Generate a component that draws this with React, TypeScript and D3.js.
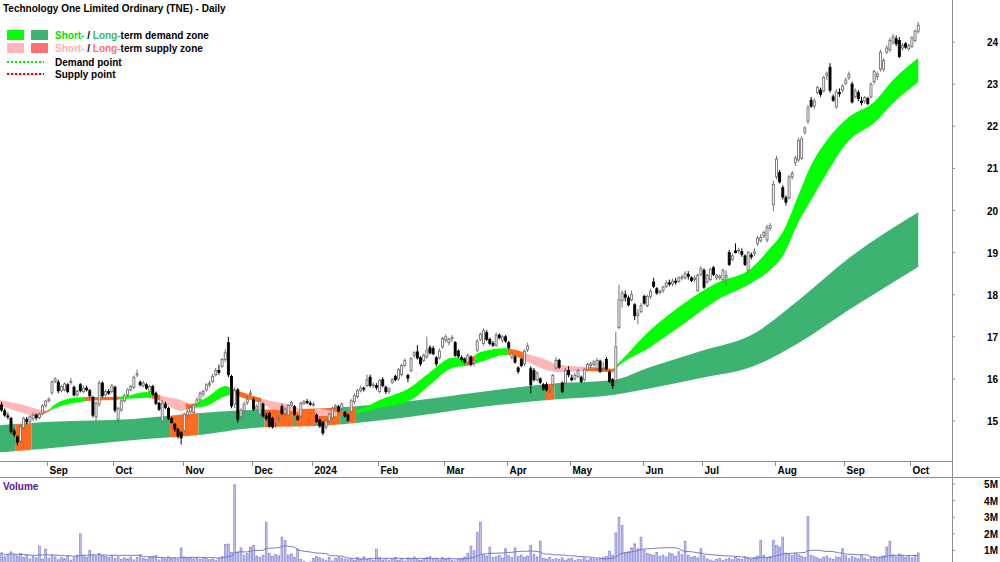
import React, { useRef, useEffect } from 'react';
import * as d3 from 'd3';

type Candle = [number, number, number, number]; // open, high, low, close

// daily candles, 11 Aug 2023 .. 3 Oct 2024 (one per trading day)
const candles: Candle[] = [
  [15.38,15.45,15.22,15.26],[15.24,15.30,15.10,15.14],[15.12,15.20,15.04,15.10],[15.06,15.10,14.70,14.76],[14.76,14.82,14.62,14.68],
  [14.62,14.66,14.42,14.50],[14.52,14.90,14.48,14.86],[14.84,15.10,14.80,15.06],[15.04,15.10,14.92,14.98],[14.98,15.14,14.95,15.10],
  [15.06,15.20,15.00,15.14],[15.14,15.18,15.02,15.08],[15.08,15.20,15.04,15.16],[15.18,15.40,15.14,15.36],[15.36,15.50,15.32,15.47],
  [15.48,15.56,15.44,15.52],[15.68,15.96,15.62,15.93],[15.94,16.04,15.90,16.00],[15.92,15.98,15.66,15.72],[15.72,15.86,15.68,15.82],
  [15.74,15.92,15.70,15.88],[15.86,15.90,15.66,15.70],[15.92,16.02,15.86,15.94],[15.80,15.84,15.58,15.62],[15.62,15.74,15.58,15.70],
  [15.86,15.90,15.68,15.72],[15.70,15.84,15.66,15.78],[15.78,15.84,15.70,15.74],[15.72,15.76,15.56,15.60],[15.56,15.60,15.08,15.14],
  [15.10,15.46,15.00,15.42],[15.40,15.96,15.34,15.90],[15.90,15.94,15.56,15.60],[15.62,15.74,15.58,15.70],[15.70,15.76,15.62,15.66],
  [15.70,15.88,15.66,15.84],[15.80,15.84,15.20,15.26],[15.04,15.34,14.96,15.30],[15.26,15.52,15.22,15.48],[15.48,15.64,15.44,15.60],
  [15.62,15.78,15.58,15.74],[15.74,15.86,15.70,15.82],[15.80,16.08,15.76,16.04],[16.10,16.22,16.04,16.12],[15.92,15.96,15.82,15.86],
  [15.84,15.96,15.80,15.90],[15.86,15.90,15.74,15.78],[15.70,15.86,15.66,15.82],[15.82,15.86,15.60,15.64],[15.66,15.70,15.38,15.42],
  [15.42,15.46,15.24,15.28],[15.00,15.50,14.96,15.42],[15.40,15.46,15.28,15.32],[15.30,15.34,15.02,15.06],[15.06,15.10,14.94,14.96],
  [14.92,14.96,14.74,14.80],[14.80,14.84,14.58,14.64],[14.72,14.76,14.44,14.60],[14.78,15.20,14.72,15.16],[15.14,15.26,15.08,15.22],
  [15.22,15.36,15.18,15.32],[15.20,15.40,15.16,15.38],[15.40,15.56,15.36,15.50],[15.50,15.70,15.46,15.66],[15.64,15.74,15.58,15.70],
  [15.74,15.90,15.70,15.86],[15.86,15.96,15.80,15.90],[15.94,16.12,15.90,16.06],[16.10,16.26,16.06,16.20],[16.20,16.34,16.10,16.16],
  [16.30,16.50,16.26,16.46],[16.46,16.70,16.40,16.62],[16.86,17.00,16.04,16.10],[16.06,16.10,15.30,15.36],[15.40,15.80,15.30,15.72],
  [15.74,15.78,14.96,15.04],[15.10,15.30,15.06,15.26],[15.24,15.46,15.20,15.40],[15.44,15.60,15.38,15.52],[15.66,15.74,15.60,15.66],
  [15.50,15.56,15.24,15.28],[15.28,15.40,15.24,15.34],[15.16,15.54,15.10,15.48],[15.40,15.44,15.08,15.12],[15.12,15.20,15.00,15.06],
  [15.18,15.22,14.84,14.88],[15.06,15.10,14.82,14.86],[14.90,14.98,14.84,14.92],[15.08,15.14,15.00,15.08],[15.34,15.40,15.14,15.18],
  [15.18,15.32,15.12,15.28],[15.14,15.40,15.10,15.36],[15.38,15.48,15.34,15.44],[15.34,15.38,15.12,15.16],[15.10,15.14,15.00,15.04],
  [15.12,15.46,15.08,15.42],[15.42,15.50,15.38,15.46],[15.46,15.52,15.40,15.44],[15.42,15.48,15.36,15.40],[15.40,15.46,15.34,15.40],
  [15.14,15.18,14.96,14.99],[15.02,15.06,14.84,14.88],[14.96,15.00,14.66,14.72],[14.86,15.04,14.80,15.00],[15.00,15.20,14.96,15.16],
  [15.08,15.34,15.04,15.30],[15.32,15.40,15.28,15.36],[15.34,15.38,15.20,15.24],[15.30,15.44,15.26,15.40],[15.20,15.24,15.08,15.12],
  [15.14,15.18,14.98,15.02],[15.22,15.52,15.18,15.48],[15.46,15.66,15.40,15.60],[15.58,15.76,15.54,15.72],[15.72,15.84,15.68,15.78],
  [15.78,15.82,15.70,15.76],[15.84,16.10,15.80,15.98],[16.04,16.10,15.80,15.84],[15.84,15.92,15.78,15.86],[15.84,15.90,15.74,15.80],
  [15.70,16.00,15.66,15.96],[15.98,16.04,15.80,15.84],[15.80,15.84,15.64,15.70],[15.70,15.80,15.64,15.76],[15.92,16.02,15.88,15.98],
  [16.06,16.10,15.94,15.98],[16.00,16.26,15.96,16.22],[16.10,16.36,16.06,16.32],[16.32,16.48,16.28,16.44],[16.08,16.12,15.92,16.02],
  [16.20,16.52,16.16,16.48],[16.56,16.66,16.50,16.62],[16.64,16.80,16.46,16.50],[16.50,16.54,16.30,16.36],[16.44,16.60,16.40,16.56],
  [16.52,17.00,16.48,16.68],[16.74,16.80,16.58,16.62],[16.72,16.78,16.56,16.60],[16.50,16.54,16.30,16.36],[16.50,16.72,16.46,16.66],
  [16.76,17.00,16.72,16.96],[16.92,17.06,16.86,17.00],[16.86,16.98,16.80,16.94],[16.96,17.04,16.88,16.98],[16.86,16.90,16.52,16.56],
  [16.66,16.70,16.50,16.54],[16.50,16.56,16.40,16.46],[16.46,16.50,16.36,16.40],[16.40,16.60,16.34,16.56],[16.52,16.56,16.30,16.34],
  [16.38,16.48,16.30,16.44],[16.68,16.94,16.64,16.90],[16.94,17.10,16.90,17.06],[16.84,17.20,16.80,17.14],[17.10,17.16,16.90,16.94],
  [16.94,16.98,16.80,16.84],[16.84,16.90,16.76,16.80],[16.80,17.10,16.76,17.04],[17.04,17.08,16.94,16.98],[16.92,17.04,16.86,17.00],
  [17.00,17.04,16.86,16.90],[16.86,16.90,16.70,16.74],[16.52,16.64,16.46,16.60],[16.52,16.56,16.36,16.40],[16.26,16.30,16.12,16.18],
  [16.46,16.50,16.28,16.32],[16.36,16.70,16.30,16.66],[16.70,16.86,16.64,16.78],[16.24,16.30,15.66,15.86],[16.20,16.26,15.94,15.98],
  [15.98,16.18,15.94,16.14],[16.00,16.04,15.88,15.92],[15.86,15.90,15.72,15.76],[15.86,15.92,15.70,15.74],[15.72,15.80,15.64,15.76],
  [15.86,16.12,15.82,16.08],[16.26,16.52,16.22,16.44],[16.44,16.48,16.24,16.28],[15.90,15.94,15.66,15.70],[15.90,16.26,15.86,16.20],
  [16.20,16.30,16.04,16.10],[16.02,16.10,15.94,15.98],[16.00,16.14,15.96,16.08],[16.06,16.24,16.02,16.20],[16.04,16.08,15.90,15.94],
  [15.98,16.26,15.94,16.22],[16.22,16.38,16.18,16.34],[16.32,16.40,16.26,16.36],[16.34,16.44,16.30,16.40],[16.24,16.50,16.20,16.44],
  [16.42,16.46,16.14,16.18],[16.24,16.40,16.20,16.26],[16.46,16.52,16.20,16.24],[16.16,16.20,15.90,15.94],[15.98,16.02,15.76,15.84],
  [15.96,17.12,15.90,16.76],[17.22,18.24,17.18,17.88],[17.86,18.10,17.70,18.04],[18.00,18.10,17.84,17.94],[17.92,17.98,17.72,17.76],
  [17.88,18.10,17.84,18.00],[17.76,17.80,17.40,17.50],[17.50,17.66,17.30,17.56],[17.60,17.80,17.56,17.74],[17.96,18.00,17.76,17.80],
  [17.74,18.00,17.70,17.96],[17.96,18.14,17.90,18.08],[18.30,18.40,18.16,18.20],[18.14,18.18,18.00,18.04],[18.06,18.12,18.00,18.08],
  [18.10,18.22,18.04,18.18],[18.20,18.34,18.16,18.28],[18.28,18.36,18.20,18.26],[18.26,18.38,18.20,18.32],[18.32,18.40,18.24,18.30],
  [18.32,18.44,18.28,18.40],[18.40,18.48,18.34,18.42],[18.40,18.56,18.36,18.50],[18.48,18.56,18.36,18.44],[18.40,18.44,18.30,18.34],
  [18.36,18.46,18.30,18.40],[18.10,18.50,18.06,18.46],[18.48,18.68,18.44,18.62],[18.58,18.62,18.14,18.18],[18.30,18.50,18.26,18.46],
  [18.36,18.64,18.32,18.60],[18.64,18.68,18.44,18.48],[18.40,18.50,18.34,18.46],[18.40,18.48,18.34,18.44],[18.36,18.62,18.30,18.58],
  [18.40,18.58,18.20,18.46],[19.00,19.06,18.68,18.72],[18.84,18.98,18.80,18.92],[19.04,19.22,18.98,19.00],[19.04,19.12,18.98,19.06],
  [19.02,19.10,18.90,18.96],[18.92,18.96,18.68,18.72],[18.58,19.04,18.52,19.00],[18.94,19.00,18.84,18.90],[18.98,19.10,18.92,19.02],
  [19.22,19.40,19.16,19.34],[19.28,19.44,19.24,19.36],[19.40,19.52,19.34,19.48],[19.30,19.66,19.24,19.60],[19.58,19.70,19.52,19.64],
  [20.14,20.70,19.98,20.62],[20.80,21.30,20.74,21.22],[20.90,20.96,20.64,20.68],[20.54,20.60,20.26,20.32],[20.30,20.36,20.12,20.20],
  [20.30,20.84,20.26,20.80],[20.80,20.94,20.74,20.88],[21.14,21.30,21.06,21.24],[21.20,21.72,21.16,21.66],[21.24,21.76,21.20,21.70],
  [21.86,22.00,21.80,21.96],[22.12,22.50,22.06,22.44],[22.62,22.70,22.44,22.48],[22.48,22.66,22.40,22.60],[22.80,22.96,22.76,22.92],
  [22.86,22.92,22.70,22.76],[22.84,23.20,22.80,23.16],[23.20,23.30,23.10,23.26],[23.40,23.50,22.80,22.86],[22.70,22.76,22.58,22.62],
  [22.46,22.88,22.42,22.82],[22.80,22.90,22.70,22.78],[22.86,23.00,22.80,22.96],[23.02,23.16,22.98,23.10],[23.16,23.30,23.10,23.24],
  [23.00,23.06,22.54,22.58],[22.70,22.90,22.66,22.84],[22.80,22.86,22.60,22.66],[22.60,22.70,22.50,22.56],[22.60,22.72,22.54,22.68],
  [22.66,22.70,22.50,22.54],[22.70,23.04,22.66,23.00],[23.06,23.34,23.00,23.30],[23.18,23.30,23.10,23.24],[23.36,23.82,23.30,23.76],
  [23.36,23.62,23.30,23.56],[23.76,23.92,23.72,23.86],[23.82,24.10,23.76,24.04],[24.00,24.20,23.94,24.12],[24.08,24.16,23.90,23.96],
  [24.04,24.12,23.62,23.66],[23.86,23.98,23.80,23.92],[23.96,24.00,23.84,23.88],[23.84,23.96,23.80,23.92],[23.90,24.14,23.86,24.10],
  [24.04,24.30,24.00,24.26],[24.26,24.48,24.20,24.40],
];

// daily volume, millions
const volumes: number[] = [
  0.85,0.62,0.78,0.91,0.74,0.66,0.82,0.58,0.71,0.49,
  0.64,0.55,1.26,0.47,1.08,0.52,0.69,0.61,0.44,0.57,
  0.50,0.63,0.41,0.56,0.72,2.00,0.68,0.59,1.00,0.73,
  0.66,0.81,0.70,0.64,0.58,0.71,0.52,0.62,0.45,0.55,
  0.49,0.60,0.43,0.57,0.74,0.51,0.46,0.58,0.63,0.69,
  0.42,0.55,0.48,0.61,0.50,0.56,0.47,1.15,0.60,0.52,
  0.58,0.49,0.53,0.45,0.57,0.50,0.44,0.48,0.41,0.52,
  0.62,1.35,1.38,0.88,4.95,0.90,1.15,0.72,0.81,1.20,
  1.30,0.66,0.59,0.71,2.70,0.83,0.64,0.76,0.68,1.80,
  1.60,0.73,0.79,0.58,1.10,0.47,0.35,0.28,0.31,0.52,
  0.63,0.55,0.49,0.41,0.58,0.36,0.52,0.60,0.54,0.47,
  0.44,0.51,0.39,0.57,0.48,0.62,0.45,0.53,0.40,1.08,
  0.56,0.43,0.50,0.38,0.47,0.59,0.41,0.52,0.36,0.55,
  0.48,0.60,0.44,0.39,0.51,0.57,0.62,0.46,0.53,0.42,
  0.58,0.49,0.55,0.41,0.36,0.47,0.52,0.60,0.83,1.26,
  0.98,2.10,2.70,0.74,0.66,1.20,0.58,0.62,0.71,0.54,
  1.10,0.68,0.57,1.15,0.63,0.72,0.59,0.66,1.30,0.77,
  0.61,1.55,0.52,0.48,0.57,0.44,0.50,0.46,0.55,0.41,
  0.49,0.53,0.38,0.47,0.44,0.56,0.42,0.51,0.48,0.45,
  0.52,0.58,0.64,0.95,0.71,2.05,3.00,2.50,0.86,0.92,
  1.15,1.40,1.10,1.80,1.00,0.82,0.76,0.69,0.88,0.64,
  0.71,0.60,0.84,0.78,0.66,0.92,0.74,1.55,0.70,0.58,
  0.63,0.55,1.10,0.68,0.49,0.42,0.36,0.45,0.51,0.39,
  0.47,0.54,0.43,0.58,0.50,0.46,0.61,0.53,0.48,0.57,
  0.66,1.60,0.72,0.59,0.64,1.60,1.30,1.20,1.80,0.84,
  0.77,0.69,0.81,0.74,0.66,0.58,3.05,0.70,0.62,0.55,
  0.48,0.59,0.66,0.52,0.45,0.61,0.57,1.10,0.68,0.50,
  0.63,0.56,0.49,0.71,0.54,0.46,0.58,0.62,0.52,0.60,
  0.67,1.20,1.55,0.74,0.61,0.79,0.70,0.58,0.66,0.55,
  0.72,0.85,
];

const monthLabels = ['Sep', 'Oct', 'Nov', 'Dec', '2024', 'Feb', 'Mar', 'Apr', 'May', 'Jun', 'Jul', 'Aug', 'Sep', 'Oct'];
const monthStarts = [15, 36, 58, 80, 99, 120, 141, 161, 181, 204, 223, 246, 268, 289];
const priceTicks = [15, 16, 17, 18, 19, 20, 21, 22, 23, 24];
const volumeTicks = [1, 2, 3, 4, 5];

// short-term zone edges, read at these trading days
const shortDays = [0, 6, 11, 14, 17, 23, 28, 35, 39, 46, 49, 52, 57, 60, 65, 71, 73, 78, 82, 87, 92, 96, 101, 107, 113, 120, 130, 136, 143, 149, 152, 160, 163, 167, 173, 177, 187, 194, 195, 206, 216, 227, 238, 244, 248, 253, 257, 262, 269, 277, 283, 291];
const shortTop = [15.50, 15.40, 15.29, 15.24, 15.40, 15.55, 15.57, 15.57, 15.59, 15.69, 15.64, 15.57, 15.50, 15.40, 15.55, 15.83, 15.78, 15.64, 15.55, 15.45, 15.38, 15.26, 15.29, 15.21, 15.26, 15.50, 15.81, 16.16, 16.50, 16.52, 16.64, 16.73, 16.69, 16.59, 16.45, 16.33, 16.28, 16.24, 16.31, 17.16, 17.76, 18.28, 18.63, 19.11, 19.49, 20.37, 21.08, 21.67, 22.22, 22.58, 23.10, 23.62];
const shortBottom = [15.36, 15.21, 15.12, 15.19, 15.31, 15.43, 15.48, 15.50, 15.52, 15.55, 15.52, 15.40, 15.24, 15.29, 15.36, 15.59, 15.62, 15.52, 15.43, 15.26, 15.24, 15.17, 15.12, 15.12, 15.19, 15.31, 15.50, 15.86, 16.26, 16.33, 16.40, 16.57, 16.54, 16.40, 16.21, 16.16, 16.19, 16.16, 16.24, 16.76, 17.28, 17.87, 18.28, 18.59, 18.92, 19.73, 20.25, 20.89, 21.67, 22.08, 22.55, 23.05];

// long-term zone edges
const longDays = [0, 16, 42, 63, 79, 104, 127, 152, 177, 194, 206, 222, 238, 253, 269, 291];
const longTop = [14.90, 14.98, 15.05, 15.19, 15.26, 15.31, 15.45, 15.69, 15.90, 15.97, 16.28, 16.66, 17.04, 17.87, 18.87, 19.96];
const longBottom = [14.26, 14.36, 14.55, 14.67, 14.83, 14.90, 15.07, 15.33, 15.52, 15.62, 15.78, 16.02, 16.28, 16.85, 17.64, 18.66];

// [first day, day after last, state]
const shortZones: [number, number, string][] = [
  [0, 13, 'supply'], [13, 16, 'mixed'], [16, 27, 'demand'], [27, 38, 'mixed'], [38, 48, 'demand'], [48, 51, 'mixed'],
  [51, 59, 'supply'], [59, 62, 'mixed'], [62, 73, 'demand'], [73, 83, 'mixed'], [83, 95, 'supply'], [95, 100, 'mixed'],
  [100, 107, 'supply'], [107, 113, 'mixed'], [113, 148, 'demand'], [148, 151, 'mixed'], [151, 161, 'demand'],
  [161, 167, 'mixed'], [167, 186, 'supply'], [186, 195, 'mixed'], [195, 292, 'demand'],
];
const longZones: [number, number, string][] = [
  [0, 5, 'demand'], [5, 10, 'supply'], [10, 54, 'demand'], [54, 63, 'supply'], [63, 84, 'demand'], [84, 93, 'supply'],
  [93, 94, 'demand'], [94, 100, 'supply'], [100, 101, 'demand'], [101, 108, 'supply'], [108, 111, 'demand'],
  [111, 113, 'supply'], [113, 173, 'demand'], [173, 176, 'supply'], [176, 292, 'demand'],
];

const shortColors: Record<string, string> = { demand: '#00ff00', supply: '#ffb6b6', mixed: '#ff6a21' };
const longColors: Record<string, string> = { demand: '#3cb371', supply: '#ff6a21' };

const App = () => {
  const ref = useRef<SVGSVGElement>(null);

  useEffect(() => {
    document.body.style.margin = '0';
    const svg = d3.select(ref.current);
    svg.selectAll('*').remove();

    const axisX = 952;
    const font = '"Liberation Sans", Arial, sans-serif';

    const x = d3.scaleBand<number>()
      .domain(d3.range(candles.length))
      .range([0, candles.length * 3.15]);
    const step = x.step();
    const cx = (i: number) => (x(i) as number) + x.bandwidth() / 2;
    const y = d3.scaleLinear().domain([15, 24]).range([421, 42.1]);
    const yv = d3.scaleLinear().domain([0, 5]).range([567, 484]);

    svg.append('rect').attr('width', 1000).attr('height', 562).attr('fill', '#fff');
    const defs = svg.append('defs');

    // zone bands
    const drawBand = (days: number[], top: number[], bottom: number[], zones: [number, number, string][], colors: Record<string, string>, id: string) => {
      const pts = days.map((d, k) => ({ x: d === 0 ? 0 : cx(d), t: y(top[k]), b: y(bottom[k]) }));
      const area = d3.area<{ x: number; t: number; b: number }>()
        .x(p => p.x).y0(p => p.b).y1(p => p.t)
        .curve(d3.curveMonotoneX);
      const path = area(pts) as string;
      zones.forEach(([s, e, state], k) => {
        const cid = `${id}-${k}`;
        defs.append('clipPath').attr('id', cid)
          .append('rect')
          .attr('x', s * step).attr('y', 0)
          .attr('width', (e - s) * step).attr('height', 461);
        svg.append('path')
          .attr('d', path)
          .attr('fill', colors[state])
          .attr('clip-path', `url(#${cid})`);
      });
    };
    drawBand(longDays, longTop, longBottom, longZones, longColors, 'lz');
    drawBand(shortDays, shortTop, shortBottom, shortZones, shortColors, 'sz');

    // candles
    const g = svg.append('g');
    candles.forEach(([o, h, l, c], i) => {
      const up = c >= o;
      const col = up ? '#707070' : '#000';
      g.append('line')
        .attr('x1', cx(i)).attr('x2', cx(i))
        .attr('y1', y(h)).attr('y2', y(l))
        .attr('stroke', col).attr('stroke-width', 1);
      const top = y(Math.max(o, c));
      const hgt = Math.max(1, Math.abs(y(o) - y(c)));
      g.append('rect')
        .attr('x', cx(i) - 1).attr('y', top)
        .attr('width', 2).attr('height', hgt)
        .attr('fill', up ? '#fff' : '#000')
        .attr('stroke', col).attr('stroke-width', 0.9);
    });

    // volume
    const vg = svg.append('g');
    volumes.forEach((v, i) => {
      vg.append('rect')
        .attr('x', cx(i) - 0.9).attr('y', yv(v))
        .attr('width', 1.8).attr('height', yv(0) - yv(v))
        .attr('fill', '#c4c4ee').attr('stroke', '#8484d0').attr('stroke-width', 0.7);
    });
    const volAvg = volumes.map((_, i) => d3.mean(volumes.slice(Math.max(0, i - 19), i + 1)) as number);
    vg.append('path')
      .attr('d', d3.line<number>().x((_, i) => cx(i)).y(v => yv(v))(volAvg) as string)
      .attr('fill', 'none').attr('stroke', '#7878c8').attr('stroke-width', 1);

    // frame
    svg.append('rect').attr('x', 0).attr('y', 461).attr('width', axisX).attr('height', 16).attr('fill', '#fff');
    svg.append('line').attr('x1', 0).attr('x2', axisX).attr('y1', 461.5).attr('y2', 461.5).attr('stroke', '#909090');
    svg.append('line').attr('x1', 0).attr('x2', 1000).attr('y1', 477.5).attr('y2', 477.5).attr('stroke', '#909090');
    svg.append('line').attr('x1', axisX + 0.5).attr('x2', axisX + 0.5).attr('y1', 0).attr('y2', 562).attr('stroke', '#909090');

    // month axis
    monthStarts.forEach((m, k) => {
      const mx = Math.round(m * step) + 0.5;
      svg.append('line').attr('x1', mx).attr('x2', mx).attr('y1', 462).attr('y2', 466).attr('stroke', '#909090');
      svg.append('text').attr('x', mx + 2).attr('y', 474)
        .attr('font-family', font).attr('font-size', 10).attr('font-weight', 'bold')
        .attr('fill', '#000').text(monthLabels[k]);
    });

    // price axis
    priceTicks.forEach(t => {
      svg.append('line').attr('x1', axisX).attr('x2', axisX + 3).attr('y1', y(t)).attr('y2', y(t)).attr('stroke', '#909090');
      svg.append('text').attr('x', 998).attr('y', y(t) + 4).attr('text-anchor', 'end')
        .attr('font-family', font).attr('font-size', 10).attr('font-weight', 'bold').text(String(t));
    });
    volumeTicks.forEach(t => {
      svg.append('line').attr('x1', axisX).attr('x2', axisX + 3).attr('y1', yv(t)).attr('y2', yv(t)).attr('stroke', '#909090');
      svg.append('text').attr('x', 998).attr('y', yv(t) + 4).attr('text-anchor', 'end')
        .attr('font-family', font).attr('font-size', 10).attr('font-weight', 'bold').text(`${t}M`);
    });

    svg.append('text').attr('x', 3).attr('y', 490)
      .attr('font-family', font).attr('font-size', 10).attr('font-weight', 'bold')
      .attr('fill', '#551a8b').text('Volume');

    // title + legend
    const txt = (tx: number, ty: number) => svg.append('text').attr('x', tx).attr('y', ty)
      .attr('font-family', font).attr('font-size', 10).attr('font-weight', 'bold').attr('fill', '#000');
    txt(3, 12).text('Technology One Limited Ordinary (TNE) - Daily');

    svg.append('rect').attr('x', 7).attr('y', 30).attr('width', 17).attr('height', 10).attr('fill', '#00ff00');
    svg.append('rect').attr('x', 31).attr('y', 30).attr('width', 17).attr('height', 10).attr('fill', '#3cb371');
    svg.append('rect').attr('x', 7).attr('y', 43).attr('width', 17).attr('height', 10).attr('fill', '#ffb6b6');
    svg.append('rect').attr('x', 31).attr('y', 43).attr('width', 17).attr('height', 10).attr('fill', '#ff6f6f');

    const l1 = txt(55, 39);
    l1.append('tspan').attr('fill', '#00e000').text('Short-');
    l1.append('tspan').text(' / ');
    l1.append('tspan').attr('fill', '#3cb371').text('Long-');
    l1.append('tspan').text('term demand zone');
    const l2 = txt(55, 52);
    l2.append('tspan').attr('fill', '#ffb0b0').text('Short-');
    l2.append('tspan').text(' / ');
    l2.append('tspan').attr('fill', '#ff6f6f').text('Long-');
    l2.append('tspan').text('term supply zone');

    svg.append('line').attr('x1', 7).attr('x2', 44).attr('y1', 62).attr('y2', 62)
      .attr('stroke', '#00ee00').attr('stroke-width', 2).attr('stroke-dasharray', '2.4,1.6');
    svg.append('line').attr('x1', 7).attr('x2', 44).attr('y1', 74).attr('y2', 74)
      .attr('stroke', '#ee0000').attr('stroke-width', 2).attr('stroke-dasharray', '2.4,1.6');
    txt(55, 66).text('Demand point');
    txt(55, 78).text('Supply point');
  }, []);

  return <svg ref={ref} width={1000} height={562} style={{ display: 'block' }} />;
};

export default App;
